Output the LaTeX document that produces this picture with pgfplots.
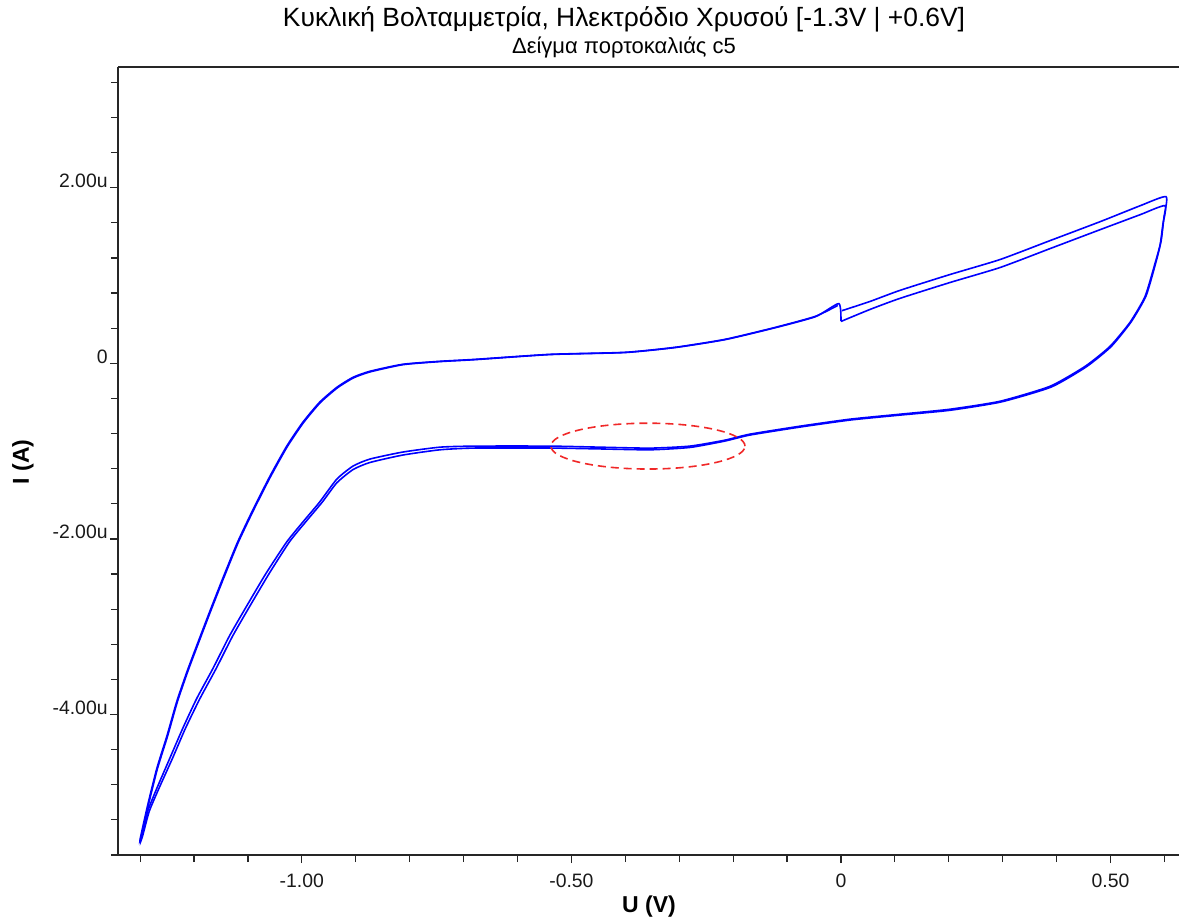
\documentclass[border=0pt]{standalone}
\usepackage{pgfplots}
\pgfplotsset{compat=1.18}
\usepackage{pgfplotstable}
\usepackage{fontspec}
\setmainfont{Liberation Sans}

% Cycle 1 (I in microampere)
\pgfplotstableread{
V I
0.000 0.477
0.054 0.614
0.109 0.739
0.202 0.920
0.295 1.091
0.388 1.307
0.481 1.523
0.555 1.693
0.601 1.795
0.597 1.580
0.592 1.352
0.583 1.148
0.564 0.761
0.536 0.466
0.499 0.193
0.453 -0.034
0.388 -0.261
0.295 -0.432
0.202 -0.523
0.109 -0.580
0.017 -0.636
-0.076 -0.716
-0.169 -0.807
-0.215 -0.875
-0.280 -0.943
-0.354 -0.966
-0.447 -0.955
-0.540 -0.943
-0.679 -0.943
-0.744 -0.955
-0.813 -1.011
-0.874 -1.091
-0.905 -1.170
-0.935 -1.318
-0.967 -1.580
-0.998 -1.807
-1.028 -2.034
-1.067 -2.398
-1.102 -2.761
-1.134 -3.102
-1.165 -3.477
-1.195 -3.818
-1.221 -4.159
-1.245 -4.500
-1.269 -4.841
-1.286 -5.102
-1.297 -5.375
-1.300 -5.420
-1.286 -5.034
-1.269 -4.614
-1.250 -4.239
-1.232 -3.852
-1.213 -3.511
-1.195 -3.216
-1.171 -2.830
-1.147 -2.455
-1.119 -2.034
-1.090 -1.659
-1.059 -1.284
-1.028 -0.943
-0.998 -0.670
-0.967 -0.443
-0.935 -0.273
-0.905 -0.159
-0.874 -0.091
-0.813 -0.011
-0.744 0.023
-0.679 0.045
-0.540 0.102
-0.401 0.125
-0.308 0.182
-0.215 0.273
-0.122 0.409
-0.048 0.534
-0.006 0.659
}\cycleone

% Cycle 2 (I in microampere)
\pgfplotstableread{
V I
0.002 0.600
0.054 0.705
0.109 0.830
0.202 1.011
0.295 1.182
0.388 1.398
0.481 1.614
0.555 1.795
0.603 1.898
0.599 1.660
0.594 1.400
0.585 1.170
0.566 0.770
0.538 0.470
0.501 0.190
0.455 -0.040
0.390 -0.270
0.297 -0.440
0.202 -0.535
0.109 -0.590
0.017 -0.646
-0.076 -0.726
-0.169 -0.817
-0.215 -0.885
-0.280 -0.958
-0.354 -0.985
-0.447 -0.975
-0.540 -0.965
-0.679 -0.965
-0.744 -0.985
-0.813 -1.045
-0.874 -1.130
-0.905 -1.210
-0.935 -1.360
-0.962 -1.580
-0.993 -1.807
-1.023 -2.034
-1.061 -2.398
-1.096 -2.761
-1.128 -3.102
-1.159 -3.477
-1.189 -3.818
-1.216 -4.159
-1.240 -4.500
-1.265 -4.841
-1.283 -5.102
-1.295 -5.375
-1.299 -5.440
-1.285 -5.040
-1.268 -4.620
-1.249 -4.245
-1.231 -3.858
-1.212 -3.517
-1.194 -3.222
-1.170 -2.836
-1.146 -2.461
-1.118 -2.040
-1.089 -1.665
-1.058 -1.290
-1.027 -0.949
-0.997 -0.676
-0.966 -0.449
-0.934 -0.279
-0.904 -0.165
-0.873 -0.097
-0.812 -0.015
-0.743 0.020
-0.678 0.042
-0.539 0.100
-0.400 0.123
-0.307 0.180
-0.214 0.271
-0.121 0.407
-0.047 0.532
-0.004 0.680
0.000 0.480
}\cycletwo

\begin{document}
\begin{tikzpicture}
\begin{axis}[
  at={(0,0)}, anchor=south west,
  scale only axis, width=530.5pt, height=394pt,
  xmin=-1.341, xmax=0.627, ymin=-5.6, ymax=3.375,
  axis x line*=bottom, axis y line*=left,
  axis line style={-, line width=0.9pt, black!85},
  tick align=outside,
  major tick length=4pt, minor tick length=3.5pt,
  tick style={line width=0.6pt, black!85},
  xtick={-1,-0.5,0,0.5}, xticklabels={-1.00,-0.50,0,0.50},
  minor xtick={-1.3,-1.2,-1.1,-0.9,-0.8,-0.7,-0.6,-0.4,-0.3,-0.2,-0.1,0.1,0.2,0.3,0.4,0.6},
  ytick={-4,-2,0,2}, yticklabels={-4.00u,-2.00u,0,2.00u},
  minor ytick={-5.6,-5.2,-4.8,-4.4,-3.6,-3.2,-2.8,-2.4,-1.6,-1.2,-0.8,-0.4,0.4,0.8,1.2,1.6,2.4,2.8,3.2},
  ticklabel style={font=\fontsize{9.7}{11}\selectfont, text=black!90},
  yticklabel style={anchor=base east, inner sep=1pt},
  xticklabel style={yshift=-2pt},
  xlabel={U (V)}, ylabel={I (A)},
  every axis x label/.style={at={(axis description cs:0.5005,-0.066)},anchor=center,font=\bfseries\fontsize{11.5}{13}\selectfont},
  every axis y label/.style={at={(axis description cs:-0.0895,0.4987)},rotate=90,anchor=center,font=\bfseries\fontsize{11.5}{13}\selectfont},
]
\addplot[color={rgb,255:red,0;green,0;blue,255}, line width=0.8pt, mark=none, smooth, tension=0.35] table[x=V,y=I]{\cycleone};
\addplot[color={rgb,255:red,0;green,0;blue,255}, line width=0.8pt, mark=none, smooth, tension=0.35] table[x=V,y=I]{\cycletwo};
\draw[color={rgb,255:red,240;green,40;blue,40}, line width=0.8pt, dash pattern=on 4pt off 2.5pt]
  (axis cs:-0.358,-0.943) ellipse [x radius=0.18, y radius=0.261];
\draw[line width=0.9pt, black!85] (rel axis cs:0,1) -- (rel axis cs:1,1);
\end{axis}
\node[anchor=base, font=\fontsize{13.2}{15}\selectfont] at (253pt,414pt)
  {Κυκλική Βολταμμετρία, Ηλεκτρόδιο Χρυσού [-1.3V | +0.6V]};
\node[anchor=base, font=\fontsize{11}{13}\selectfont] at (253pt,400.5pt)
  {Δείγμα πορτοκαλιάς c5};
\pgfresetboundingbox
\path (-59pt,-33.5pt) rectangle (530.5pt,427.5pt);
\end{tikzpicture}
\end{document}
